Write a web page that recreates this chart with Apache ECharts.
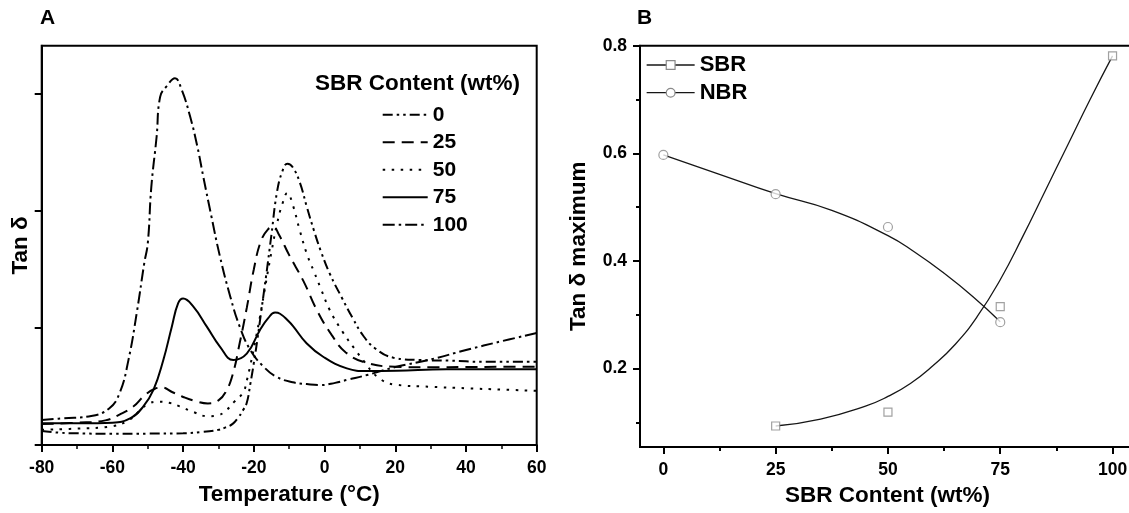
<!DOCTYPE html>
<html>
<head>
<meta charset="utf-8">
<script src="https://cdn.jsdelivr.net/npm/echarts@6/dist/echarts.min.js"></script>
<style>
  html, body { margin: 0; padding: 0; background: #fff; }
  #chart { width: 1129px; height: 513px; }
</style>
</head>
<body>
<div id="chart"></div>
<script>
// ---- panel A: tan delta vs temperature, one curve per SBR content ----
const temp0 = [-80,-75,-70,-60,-50,-40,-35,-30,-28,-26,-24.5,-23,-22,-21,-20,-19,-18,-16.5,-15,-13.5,-12,-10.5,-9,-7,-5,-3,-1,1.5,5,8,11,14.5,19.5,27,35,45,60];
const tan0  = [0.12,0.105,0.10,0.095,0.097,0.10,0.11,0.13,0.15,0.18,0.23,0.30,0.36,0.52,0.70,0.90,1.12,1.45,1.80,2.15,2.33,2.40,2.37,2.24,2.03,1.83,1.65,1.46,1.25,1.08,0.93,0.82,0.745,0.725,0.72,0.71,0.71];

const temp25 = [-80,-70,-62,-58,-54,-51,-48,-46,-43,-40,-36,-33,-30,-28,-26,-24,-22,-20,-18,-16,-14.5,-13,-10,-6,-2,2,6,12,20,30,40,50,60];
const tan25  = [0.18,0.19,0.21,0.26,0.33,0.42,0.48,0.49,0.45,0.41,0.37,0.355,0.38,0.45,0.60,0.87,1.17,1.50,1.74,1.84,1.86,1.80,1.62,1.40,1.14,0.94,0.79,0.70,0.668,0.663,0.665,0.667,0.668];

const temp50 = [-80,-70,-60,-55,-52,-50,-47,-44,-41,-37,-33,-30,-28,-25.5,-23,-22,-21,-19.5,-18,-16.5,-15,-13.5,-12,-10.5,-9,-7,-5,-3,-1,1.5,5,8.5,11,15,20,30,40,50,60];
const tan50  = [0.13,0.14,0.16,0.22,0.30,0.35,0.37,0.36,0.33,0.28,0.245,0.255,0.29,0.37,0.45,0.55,0.68,0.90,1.14,1.40,1.65,1.88,2.05,2.15,2.05,1.83,1.63,1.48,1.33,1.15,0.97,0.82,0.72,0.58,0.515,0.497,0.484,0.473,0.462];

const temp75 = [-80,-69,-60,-55,-51.3,-48.4,-45.6,-43.2,-41.4,-40,-37.1,-33.3,-29.6,-25.8,-22,-18.3,-16,-14,-12.6,-10.3,-8.8,-5.1,-0.4,6.3,11.9,20.4,34.5,60];
const tan75  = [0.185,0.185,0.19,0.227,0.327,0.47,0.725,1.01,1.21,1.25,1.18,1.01,0.84,0.725,0.78,0.98,1.08,1.13,1.12,1.06,1.01,0.868,0.753,0.654,0.631,0.634,0.646,0.646];

const temp100 = [-80,-74,-66,-61,-58,-55.5,-53,-51,-50,-49,-47.5,-46.5,-44.7,-42.3,-40.4,-38,-36,-34.3,-32,-29.6,-26.7,-24,-21,-17.3,-13.5,-9,-5,-1,3,6.3,12,20,30,40,50,60];
const tan100  = [0.213,0.228,0.247,0.31,0.44,0.72,1.15,1.55,1.72,2.2,2.63,2.97,3.06,3.13,3.03,2.8,2.55,2.29,1.95,1.61,1.27,1.01,0.81,0.67,0.58,0.535,0.52,0.512,0.53,0.555,0.597,0.665,0.73,0.81,0.885,0.955];

const yTicksA = [0, 1, 2, 3];

// ---- panel B: tan delta maximum vs SBR content ----
const sbrX = [25, 50, 75, 100];
const sbrY = [0.093, 0.119, 0.315, 0.781];
const nbrX = [0, 25, 50, 75];
const nbrY = [0.597, 0.524, 0.463, 0.286];
// fitted curves as drawn
const sbrFitX = [25, 35, 45, 50, 55, 60, 65, 70, 75, 80, 85, 90, 95, 100];
const sbrFitY = [0.093, 0.106, 0.13, 0.148, 0.172, 0.205, 0.245, 0.298, 0.365, 0.445, 0.53, 0.615, 0.70, 0.781];
const nbrFitX = [0, 12.5, 25, 37.5, 50, 56, 62.5, 69, 75];
const nbrFitY = [0.597, 0.561, 0.525, 0.494, 0.447, 0.416, 0.377, 0.333, 0.287];

const xTicksB = [0, 25, 50, 75, 100];
const xMinorB = [12.5, 37.5, 62.5, 87.5];
const yTicksB = [0.2, 0.4, 0.6, 0.8];
const yMinorB = [0.1, 0.3, 0.5, 0.7];

const zip = (xs, ys) => xs.map((x, i) => [x, ys[i]]);
const font = 'Liberation Sans, Arial, sans-serif';
const black = '#000';

const curvesA = [
	{ name: '0', data: zip(temp0, tan0), dash: [10, 4, 2.5, 4, 2.5, 4] },
	{ name: '25', data: zip(temp25, tan25), dash: [12, 7] },
	{ name: '50', data: zip(temp50, tan50), dash: [2.5, 6.5] },
	{ name: '75', data: zip(temp75, tan75), dash: 'solid' },
	{ name: '100', data: zip(temp100, tan100), dash: [12, 4, 2.5, 4] },
];

const tickStyle = { color: black, width: 2 };
const axisLineStyle = { show: true, onZero: false, lineStyle: { color: black, width: 2 } };
const labelStyle = { color: black, fontSize: 17.5, fontWeight: 'bold', fontFamily: font };
const nameStyle = { color: black, fontSize: 22.5, fontWeight: 'bold', fontFamily: font };

var myChart = echarts.init(document.getElementById('chart'));
var option = {
	animation: false,
	backgroundColor: '#fff',
	title: [
		{ text: 'A', left: 40, top: 8, padding: 0, textStyle: { color: black, fontSize: 21, fontWeight: 'bold', fontFamily: font } },
		{ text: 'B', left: 637, top: 8, padding: 0, textStyle: { color: black, fontSize: 21, fontWeight: 'bold', fontFamily: font } },
		{ text: 'SBR Content (wt%)', left: 315, top: 72, padding: 0, textStyle: nameStyle },
	],
	legend: [
		{
			data: ['0', '25', '50', '75', '100'],
			orient: 'vertical',
			left: 381.7,
			top: 104,
			padding: 0,
			itemWidth: 45,
			itemHeight: 10,
			itemGap: 6,
			selectedMode: false,
			itemStyle: { opacity: 0 },
			textStyle: { color: black, fontSize: 21, fontWeight: 'bold', fontFamily: font, lineHeight: 21.5 },
		},
		{
			data: ['SBR', 'NBR'],
			orient: 'vertical',
			left: 646,
			top: 54,
			padding: 0,
			itemWidth: 48,
			itemHeight: 11,
			itemGap: 5.7,
			selectedMode: false,
			itemStyle: { borderWidth: 1.2 },
			lineStyle: { width: 1.3 },
			textStyle: { color: black, fontSize: 22, fontWeight: 'bold', fontFamily: font, lineHeight: 22 },
		},
	],
	grid: [
		{ left: 41.7, top: 45.7, width: 495, height: 399.3, show: true, borderColor: black, borderWidth: 2, outerBoundsMode: 'none' },
		{ left: 640, top: 45.7, width: 495, height: 401.3, show: true, borderColor: black, borderWidth: 2, outerBoundsMode: 'none' },
	],
	xAxis: [
		{
			gridIndex: 0, type: 'value', min: -80, max: 60, interval: 20,
			axisLine: axisLineStyle,
			axisTick: { show: true, inside: false, length: 7, lineStyle: tickStyle },
			minorTick: { show: true, splitNumber: 2, length: 4, lineStyle: { color: black, width: 1.5 } },
			axisLabel: Object.assign({ margin: 14 }, labelStyle),
			splitLine: { show: false },
			name: 'Temperature (°C)', nameLocation: 'middle', nameGap: 38, nameTextStyle: nameStyle,
		},
		{
			gridIndex: 1, type: 'value', min: -5.2, max: 105, position: 'bottom',
			axisLine: axisLineStyle,
			axisTick: { show: true, inside: false, length: 7, lineStyle: tickStyle, customValues: xTicksB },
			axisLabel: Object.assign({ margin: 14, customValues: xTicksB }, labelStyle),
			splitLine: { show: false },
			name: 'SBR Content (wt%)', nameLocation: 'middle', nameGap: 34, nameTextStyle: nameStyle,
		},
		{
			gridIndex: 1, type: 'value', min: -5.2, max: 105, position: 'bottom',
			axisLine: { show: false, onZero: false },
			axisTick: { show: true, inside: false, length: 4, lineStyle: tickStyle, customValues: xMinorB },
			axisLabel: { show: false },
			splitLine: { show: false },
		},
	],
	yAxis: [
		{
			gridIndex: 0, type: 'value', min: 0, max: 3.407, position: 'left',
			axisLine: axisLineStyle,
			axisTick: { show: true, inside: false, length: 7, lineStyle: tickStyle, customValues: yTicksA },
			axisLabel: { show: false },
			splitLine: { show: false },
			name: 'Tan δ', nameLocation: 'middle', nameGap: 9, nameRotate: 90, nameTextStyle: nameStyle,
		},
		{
			gridIndex: 1, type: 'value', min: 0.054, max: 0.8, position: 'left',
			axisLine: axisLineStyle,
			axisTick: { show: true, inside: false, length: 7, lineStyle: tickStyle, customValues: yTicksB },
			axisLabel: Object.assign({ margin: 13, customValues: yTicksB, formatter: (v) => v.toFixed(1) }, labelStyle),
			splitLine: { show: false },
			name: 'Tan δ maximum', nameLocation: 'middle', nameGap: 50, nameRotate: 90, nameTextStyle: nameStyle,
		},
		{
			gridIndex: 1, type: 'value', min: 0.054, max: 0.8, position: 'left',
			axisLine: { show: false, onZero: false },
			axisTick: { show: true, inside: false, length: 4, lineStyle: tickStyle, customValues: yMinorB },
			axisLabel: { show: false },
			splitLine: { show: false },
		},
	],
	series: curvesA.map((c) => ({
		name: c.name,
		type: 'line',
		xAxisIndex: 0,
		yAxisIndex: 0,
		data: c.data,
		symbol: 'none',
		smooth: 0.45,
		itemStyle: { color: black },
		lineStyle: { color: black, width: 2, type: c.dash },
		emphasis: { disabled: true },
	})).concat([
		{
			name: 'SBR', type: 'line', xAxisIndex: 1, yAxisIndex: 1,
			data: zip(sbrFitX, sbrFitY), smooth: 0.5, symbol: 'rect', showSymbol: false, symbolSize: 8,
			itemStyle: { color: '#fff', borderColor: '#8a8a8a', borderWidth: 1.2 },
			lineStyle: { color: '#161616', width: 1.3 },
			emphasis: { disabled: true },
		},
		{
			name: 'NBR', type: 'line', xAxisIndex: 1, yAxisIndex: 1,
			data: zip(nbrFitX, nbrFitY), smooth: 0.5, symbol: 'circle', showSymbol: false, symbolSize: 9,
			itemStyle: { color: '#fff', borderColor: '#8a8a8a', borderWidth: 1.2 },
			lineStyle: { color: '#161616', width: 1.3 },
			emphasis: { disabled: true },
		},
		{
			name: 'SBR points', type: 'scatter', xAxisIndex: 1, yAxisIndex: 1,
			data: zip(sbrX, sbrY), symbol: 'rect', symbolSize: 8, z: 5,
			itemStyle: { color: '#fff', borderColor: '#8a8a8a', borderWidth: 1.2 },
			emphasis: { disabled: true },
		},
		{
			name: 'NBR points', type: 'scatter', xAxisIndex: 1, yAxisIndex: 1,
			data: zip(nbrX, nbrY), symbol: 'circle', symbolSize: 9, z: 5,
			itemStyle: { color: '#fff', borderColor: '#8a8a8a', borderWidth: 1.2 },
			emphasis: { disabled: true },
		},
	]),
};

option && myChart.setOption(option);
</script>
</body>
</html>
